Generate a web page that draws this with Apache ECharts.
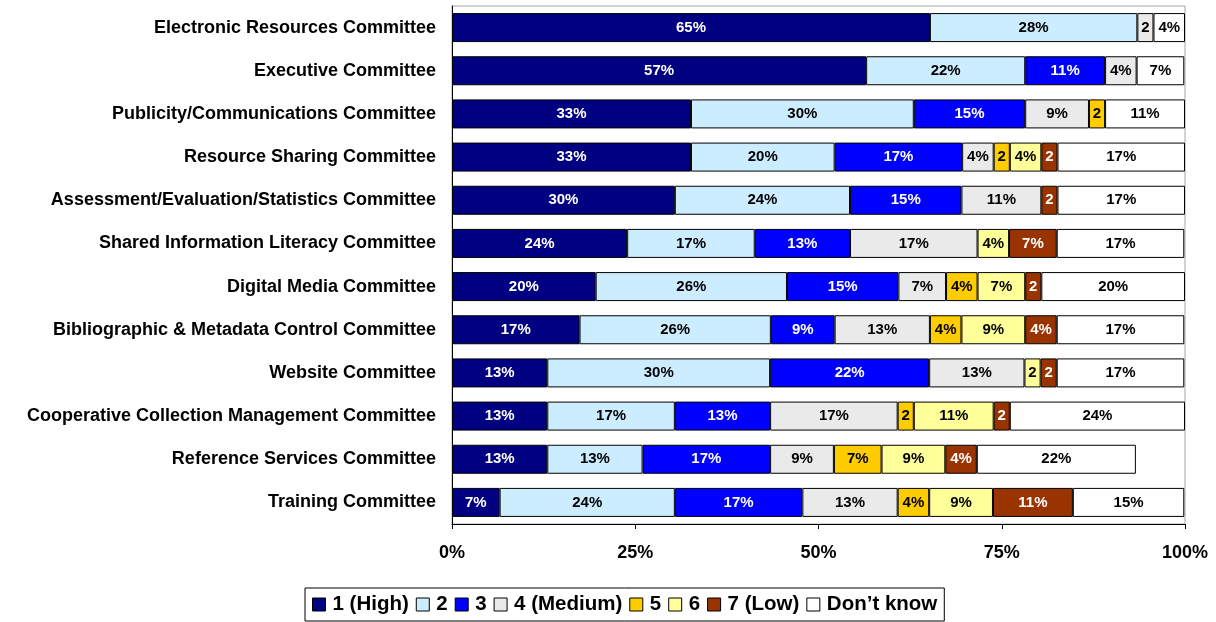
<!DOCTYPE html>
<html>
<head>
<meta charset="utf-8">
<script src="https://cdn.jsdelivr.net/npm/echarts@6/dist/echarts.min.js"></script>
<style>html,body{margin:0;padding:0;background:#fff}#c{width:1216px;height:622px}</style>
</head>
<body>
<div id="c"></div>
<script>
const categories = [
  "Electronic Resources Committee",
  "Executive Committee",
  "Publicity/Communications Committee",
  "Resource Sharing Committee",
  "Assessment/Evaluation/Statistics Committee",
  "Shared Information Literacy Committee",
  "Digital Media Committee",
  "Bibliographic & Metadata Control Committee",
  "Website Committee",
  "Cooperative Collection Management Committee",
  "Reference Services Committee",
  "Training Committee"
];
const seriesNames = ["1 (High)", "2", "3", "4 (Medium)", "5", "6", "7 (Low)", "Don\u2019t know"];
const high   = [65.2, 56.5, 32.6, 32.6, 30.4, 23.9, 19.6, 17.4, 13.0, 13.0, 13.0, 6.5];
const two    = [28.3, 21.7, 30.4, 19.6, 23.9, 17.4, 26.1, 26.1, 30.4, 17.4, 13.0, 23.9];
const three  = [0, 10.9, 15.2, 17.4, 15.2, 13.0, 15.2, 8.7, 21.7, 13.0, 17.4, 17.4];
const medium = [2.2, 4.3, 8.7, 4.3, 10.9, 17.4, 6.5, 13.0, 13.0, 17.4, 8.7, 13.0];
const five   = [0, 0, 2.2, 2.2, 0, 0, 4.3, 4.3, 0, 2.2, 6.5, 4.3];
const six    = [0, 0, 0, 4.3, 0, 4.3, 6.5, 8.7, 2.2, 10.9, 8.7, 8.7];
const low    = [0, 0, 0, 2.2, 2.2, 6.5, 2.2, 4.3, 2.2, 2.2, 4.3, 10.9];
const dontKnow = [4.3, 6.5, 10.9, 17.4, 17.4, 17.4, 19.6, 17.4, 17.4, 23.9, 21.7, 15.2];
const xTicks = [0, 25, 50, 75, 100];

const allValues = [high, two, three, medium, five, six, low, dontKnow];
const colors = ["#000080", "#CCECFF", "#0000FF", "#EAEAEA", "#FFCC00", "#FFFF99", "#993300", "#FFFFFF"];
const labelColors = ["#fff", "#000", "#fff", "#000", "#000", "#000", "#fff", "#000"];
const FONT = "'Liberation Sans', Arial, sans-serif";

const chart = echarts.init(document.getElementById('c'));
const series = allValues.map((vals, i) => ({
  name: seriesNames[i],
  type: 'bar',
  stack: 'total',
  barWidth: 29,
  data: vals.map(v => v > 0 ? v : '-'),
  itemStyle: { color: colors[i], borderColor: '#000', borderWidth: 1 },
  label: {
    show: true,
    position: 'inside',
    color: labelColors[i],
    fontFamily: FONT,
    fontWeight: 'bold',
    fontSize: 15,
    formatter: p => (p.value < 3 ? '2' : Math.round(p.value) + '%')
  },
  emphasis: { disabled: true }
}));

chart.setOption({
  animation: false,
  backgroundColor: '#fff',
  textStyle: { fontFamily: FONT },
  grid: { left: 452, right: 31, top: 6, bottom: 98, show: true, borderColor: '#a6a6a6', borderWidth: 1, backgroundColor: '#fff' },
  legend: {
    data: seriesNames,
    left: 305,
    top: 588,
    icon: 'rect',
    itemWidth: 13,
    itemHeight: 13,
    itemGap: 7,
    padding: [6, 7, 6, 7],
    borderColor: '#000',
    borderWidth: 1,
    selectedMode: false,
    itemStyle: { borderColor: '#000', borderWidth: 1 },
    textStyle: { fontFamily: FONT, fontWeight: 'bold', fontSize: 20.5, color: '#000', padding: [0, 0, 0, 2] }
  },
  xAxis: {
    type: 'value',
    min: xTicks[0],
    max: xTicks[xTicks.length - 1],
    interval: xTicks[1] - xTicks[0],
    splitLine: { show: false },
    axisLine: { show: true, lineStyle: { color: '#000', width: 1 } },
    axisTick: { show: true, length: 5, lineStyle: { color: '#000' } },
    axisLabel: { formatter: '{value}%', color: '#000', fontWeight: 'bold', fontSize: 18, margin: 20, fontFamily: FONT }
  },
  yAxis: {
    type: 'category',
    inverse: true,
    data: categories,
    axisLine: { show: true, lineStyle: { color: '#000', width: 1 } },
    axisTick: { show: false },
    axisLabel: { color: '#000', fontWeight: 'bold', fontSize: 18, margin: 16, fontFamily: FONT }
  },
  series: series
});
</script>
</body>
</html>
